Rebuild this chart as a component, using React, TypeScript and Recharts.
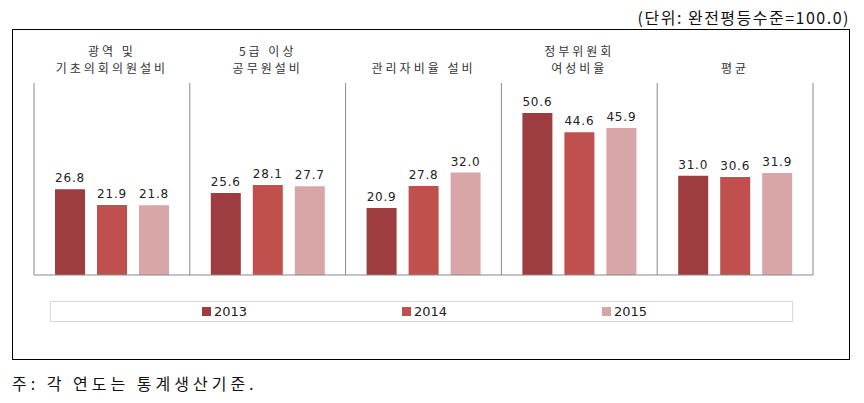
import React from 'react'
import { BarChart, Bar, XAxis, YAxis, CartesianGrid, ReferenceLine, LabelList } from 'recharts'

const categories = ['광역 및\n기초의회의원설비', '5급 이상\n공무원설비', '관리자비율 설비', '정부위원회\n여성비율', '평균']
const years = ['2013', '2014', '2015']
const values2013 = [26.8, 25.6, 20.9, 50.6, 31.0]
const values2014 = [21.9, 28.1, 27.8, 44.6, 30.6]
const values2015 = [21.8, 27.7, 32.0, 45.9, 31.9]
const colors = ['#9E3D3F', '#C0504D', '#D8A6A6']

const data = categories.map((c, i) => ({
  name: c,
  y2013: values2013[i],
  y2014: values2014[i],
  y2015: values2015[i],
}))

const LINE_H = 17.5

// category names sit above the plot, last line aligned for all
const CatTick = ({ x, y, payload }: any) => {
  const lines = String(payload.value).split('\n')
  const n = lines.length
  return (
    <text
      x={x}
      y={y - 10 - (n - 1) * LINE_H}
      textAnchor="middle"
      fontFamily="'Noto Sans CJK KR'"
      fontSize={12}
      letterSpacing={3}
      fill="#333"
    >
      {lines.map((l, i) => (
        <tspan key={i} x={x} dy={i === 0 ? 0 : LINE_H}>
          {l}
        </tspan>
      ))}
    </text>
  )
}

const fmt = (v: any) => Number(v).toFixed(1)

export default function App() {
  return (
    <div style={{ position: 'fixed', left: 0, top: 0, width: 864, height: 403, background: '#fff' }}>
      <div
        style={{
          position: 'absolute', right: 14, top: 6, fontFamily: "'Noto Sans CJK KR'", fontSize: 16,
          letterSpacing: 1.5, color: '#111', whiteSpace: 'nowrap', lineHeight: '22px',
        }}
      >
        (단위: 완전평등수준=100.0)
      </div>
      <div style={{ position: 'absolute', left: 12, top: 29, width: 836, height: 329, border: '1.5px solid #000' }} />
      <div style={{ position: 'absolute', left: 0, top: 0 }}>
        <BarChart width={864} height={403} data={data} margin={{ top: 43, right: 51, bottom: 128, left: 34 }} barSize={30} barGap={12}>
          <CartesianGrid
            horizontal={false}
            stroke="#8a8a8a"
            verticalCoordinatesGenerator={({ offset }: any) =>
              categories.map((_, i) => offset.left + (i * offset.width) / categories.length).concat(offset.left + offset.width)
            }
          />
          <XAxis dataKey="name" orientation="top" height={40} axisLine={false} tickLine={false} tickSize={0} tickMargin={0} interval={0} tick={<CatTick />} />
          <YAxis hide domain={[0, 60]} />
          <ReferenceLine y={0} stroke="#8a8a8a" />
          {years.map((yr, k) => (
            <Bar key={yr} dataKey={'y' + yr} fill={colors[k]} isAnimationActive={false}>
              <LabelList dataKey={'y' + yr} position="top" offset={7} formatter={fmt} fill="#222" fontSize={12} fontFamily="'DejaVu Sans'" letterSpacing={0.8} />
            </Bar>
          ))}
        </BarChart>
      </div>
      <div
        style={{
          position: 'absolute', left: 50, top: 301, width: 741, height: 19, border: '1px solid #d9d9d9',
          boxShadow: '0 0 1px #e4e4e4',
        }}
      >
        {years.map((yr, k) => (
          <div
            key={yr}
            style={{
              position: 'absolute', left: 151 + k * 200, top: 0, height: 19, display: 'flex', alignItems: 'center',
              fontFamily: "'DejaVu Sans'", fontSize: 13, color: '#222',
            }}
          >
            <span style={{ display: 'inline-block', width: 9, height: 9, background: colors[k], marginRight: 3 }} />
            {yr}
          </div>
        ))}
      </div>
      <div
        style={{
          position: 'absolute', left: 12, top: 372, fontFamily: "'Noto Sans CJK KR'", fontSize: 16,
          letterSpacing: 4, color: '#111', whiteSpace: 'nowrap', lineHeight: '22px',
        }}
      >
        주: 각 연도는 통계생산기준.
      </div>
    </div>
  )
}
